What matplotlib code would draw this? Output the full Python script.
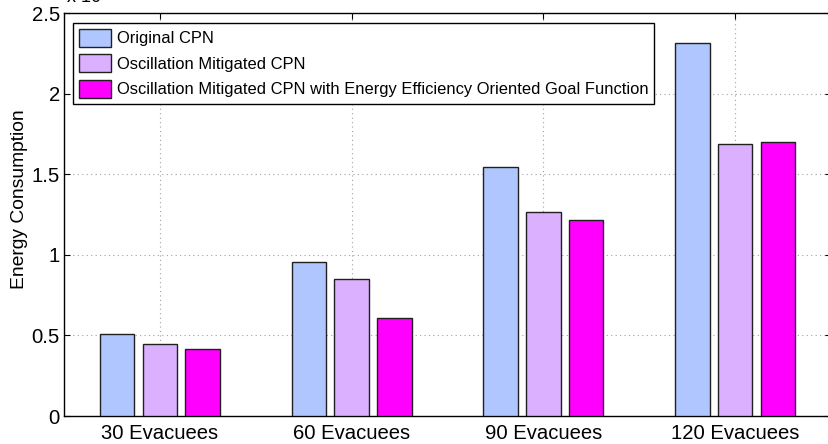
#!/usr/bin/env python3
"""Energy consumption per evacuee count, grouped bars in MATLAB style."""

import numpy as np
import matplotlib
matplotlib.use('Agg')
import matplotlib.pyplot as plt

plt.rcParams.update({
    'font.family': ['Liberation Sans', 'DejaVu Sans'],
    'font.size': 13,
    'xtick.direction': 'in',
    'ytick.direction': 'in',
})

groups = ['30 Evacuees', '60 Evacuees', '90 Evacuees', '120 Evacuees']
series_names = [
    'Original CPN',
    'Oscillation Mitigated CPN',
    'Oscillation Mitigated CPN with Energy Efficiency Oriented Goal Function',
]
original = [0.51, 0.957, 1.545, 2.315]
mitigated = [0.449, 0.853, 1.265, 1.690]
energy_goal = [0.418, 0.610, 1.216, 1.700]
yticks = [0, 0.5, 1, 1.5, 2, 2.5]
ytick_labels = ['0', '0.5', '1', '1.5', '2', '2.5']

COLORS = ['#b0c6ff', '#dab0ff', '#ff00ff']

fig = plt.figure(figsize=(8.29, 4.44), dpi=100)
ax = fig.add_axes([0.0772, 0.063, 0.9252, 0.9077])

x = np.arange(1, len(groups) + 1)
width = 0.181
offsets = [-0.223, 0.0, 0.223]
for vals, off, col, name in zip([original, mitigated, energy_goal],
                                offsets, COLORS, series_names):
    ax.bar(x + off, vals, width, color=col, edgecolor='#202020',
           lw=1.0, label=name, zorder=3)

ax.set_xlim(0.5, 4.5)
ax.set_ylim(0, 2.5)
ax.set_xticks(x)
ax.set_xticklabels(groups, fontsize=14.6)
ax.set_yticks(yticks)
ax.set_yticklabels(ytick_labels, fontsize=14.6)
ax.tick_params(top=True, right=True, length=4, width=0.8, pad=3)
ax.tick_params(axis='x', pad=6)
ax.grid(True, ls=(0, (1, 3)), color='#a0a0a0', lw=0.8, zorder=0)
for sp in ax.spines.values():
    sp.set_linewidth(1.0)
ax.set_ylabel('Energy Consumption', fontsize=13.9)
ax.yaxis.set_label_coords(-0.047, 0.538)

leg = ax.legend(loc='upper left', bbox_to_anchor=(0.0115, 0.975),
                fontsize=11.9, frameon=True, fancybox=False,
                edgecolor='black', framealpha=1.0, handlelength=1.95,
                handleheight=1.3, handletextpad=0.35, labelspacing=0.45,
                borderpad=0.35, borderaxespad=0.0)
leg.get_frame().set_linewidth(1.0)

# exponent label sits above the axes and is cut by the image edge
fig.text(66 / 829, 0.993, r'x 10$^4$', fontsize=13, va='baseline')

fig.savefig('out.png', dpi=100, facecolor='white')
